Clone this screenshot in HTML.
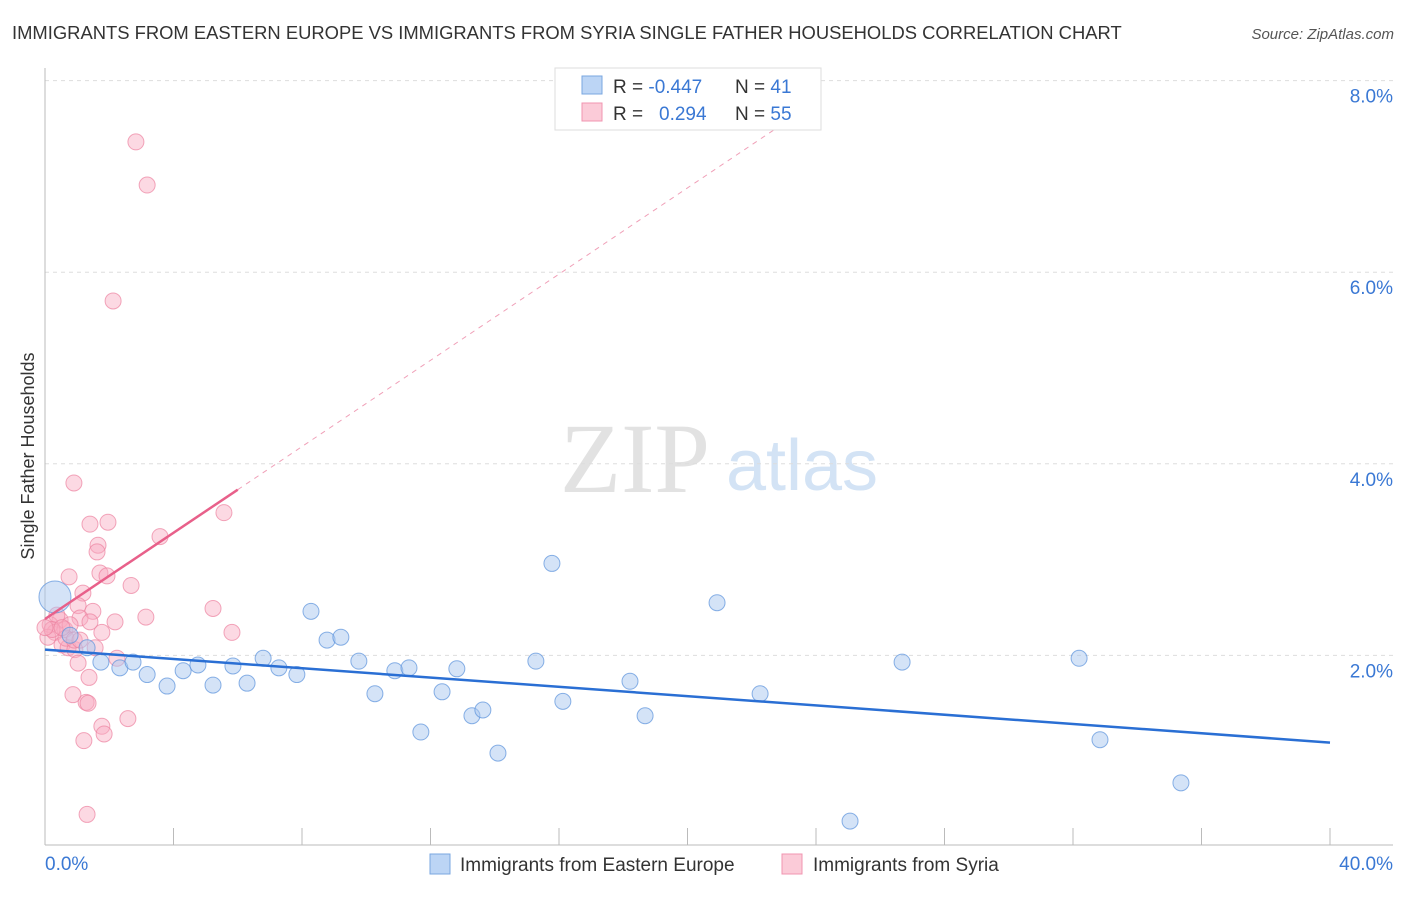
<!DOCTYPE html>
<html><head><meta charset="utf-8"><style>
body{margin:0;background:#fff;font-family:"Liberation Sans",sans-serif;}
svg text{font-family:"Liberation Sans",sans-serif;}
</style></head><body>
<svg id="chart" width="1406" height="892">
<text x="12" y="39" font-size="18.4" fill="#333">IMMIGRANTS FROM EASTERN EUROPE VS IMMIGRANTS FROM SYRIA SINGLE FATHER HOUSEHOLDS CORRELATION CHART</text>
<text x="1394" y="39" font-size="15" fill="#555" text-anchor="end" font-style="italic">Source: ZipAtlas.com</text>
<g>
<text x="635" y="492" font-size="100" fill="#e2e2e2" text-anchor="middle" style="font-family:'Liberation Serif',serif">ZIP</text>
<text x="802" y="490" font-size="72" fill="#d3e3f5" text-anchor="middle">atlas</text>
</g>
<g id="grid"></g><g id="axes"></g><g id="pts"></g><g id="lines"></g>
<text transform="translate(34,456) rotate(-90)" font-size="18" fill="#333" text-anchor="middle">Single Father Households</text>
<g>
<rect x="555" y="68" width="266" height="62" fill="#fff" stroke="#ddd"/>
<rect x="582" y="76" width="20" height="18" fill="#bcd5f5" stroke="#7aa7e0"/>
<rect x="582" y="103" width="20" height="18" fill="#fbcbd8" stroke="#f095b0"/>
<text x="613" y="93" font-size="19" fill="#333">R = <tspan fill="#3a78d4">-0.447</tspan></text>
<text x="735" y="93" font-size="19" fill="#333">N = <tspan fill="#3a78d4">41</tspan></text>
<text x="613" y="120" font-size="19" fill="#333">R = <tspan fill="#3a78d4" x="659">0.294</tspan></text>
<text x="735" y="120" font-size="19" fill="#333">N = <tspan fill="#3a78d4">55</tspan></text>
</g>
<g>
<rect x="430" y="854" width="20" height="20" fill="#bcd5f5" stroke="#7aa7e0"/>
<text x="460" y="871" font-size="19" fill="#333">Immigrants from Eastern Europe</text>
<rect x="782" y="854" width="20" height="20" fill="#fbcbd8" stroke="#f095b0"/>
<text x="813" y="871" font-size="19" fill="#333">Immigrants from Syria</text>
</g>
</svg>
<script>
const yTicks=[2,4,6,8];
const yTickLabels=["2.0%","4.0%","6.0%","8.0%"];
const xTickVals=[0,4,8,12,16,20,24,28,32,36,40];
const xEndLabels=["0.0%","40.0%"];
const blueX=[0.31,1.31,1.74,2.33,2.74,3.18,3.80,4.30,4.76,5.23,5.85,6.29,6.79,7.28,7.84,8.28,8.78,9.21,9.77,10.27,10.89,11.33,11.70,12.36,12.82,13.29,13.63,14.10,15.28,15.78,16.12,18.21,18.68,20.92,22.26,25.06,26.68,32.19,32.84,35.36,0.78];
const blueY=[2.61,2.08,1.93,1.87,1.93,1.80,1.68,1.84,1.90,1.69,1.89,1.71,1.97,1.87,1.80,2.46,2.16,2.19,1.94,1.60,1.84,1.87,1.20,1.62,1.86,1.37,1.43,0.98,1.94,2.96,1.52,1.73,1.37,2.55,1.60,0.27,1.93,1.97,1.12,0.67,2.21];
const pinkX=[2.83,3.18,2.12,0.90,1.40,1.96,3.58,5.57,1.65,1.62,0.75,1.71,1.93,2.68,1.18,1.03,1.49,5.23,3.14,2.18,5.82,1.77,1.09,1.40,0.47,0.16,0.31,0.62,0.09,0.53,0.72,0.93,2.24,1.03,1.37,0.87,1.28,1.34,1.77,2.58,1.84,1.21,1.31,0.37,0.78,0.65,0.22,0.91,0.0,0.53,1.09,1.56];
const pinkY=[7.36,6.91,5.70,3.80,3.37,3.39,3.24,3.49,3.15,3.08,2.82,2.86,2.83,2.73,2.65,2.52,2.46,2.49,2.40,2.35,2.24,2.24,2.39,2.35,2.37,2.32,2.24,2.27,2.19,2.11,2.08,2.06,1.97,1.92,1.77,1.59,1.51,1.50,1.26,1.34,1.18,1.11,0.34,2.42,2.32,2.18,2.27,2.16,2.29,2.29,2.16,2.08];
const blueTrend=[2.06,1.09];
const pinkTrend=[2.38,0.225];
const NS="http://www.w3.org/2000/svg";
const X=v=>45+v/40*1285, Y=v=>847-v*95.8;
function mk(p,t,a){const e=document.createElementNS(NS,t);for(const k in a)e.setAttribute(k,a[k]);document.getElementById(p).appendChild(e);return e;}
yTicks.forEach((t,i)=>{
 let g=mk('grid','line',{x1:45,x2:1393,y1:Y(t),y2:Y(t),stroke:'#ddd','stroke-dasharray':'4,4'});
 
 
 let l=mk('axes','text',{x:1393,y:Y(t)+22,'font-size':19,fill:'#3a78d4','text-anchor':'end'});l.textContent=yTickLabels[i];
 
 
});
let ax=mk('axes','line',{x1:45,x2:45,y1:68,y2:845,stroke:'#bbb'});


let bx=mk('axes','line',{x1:45,x2:1393,y1:845,y2:845,stroke:'#bbb'});


xTickVals.forEach(t=>{let k=mk('axes','line',{x1:X(t),x2:X(t),y1:828,y2:845,stroke:'#bbb'});
 
 });
let l0=mk('axes','text',{x:45,y:870,'font-size':19,fill:'#3a78d4'});l0.textContent=xEndLabels[0];


let l1=mk('axes','text',{x:1393,y:870,'font-size':19,fill:'#3a78d4','text-anchor':'end'});l1.textContent=xEndLabels[1];


pinkX.forEach((v,i)=>{let c=mk('pts','circle',{cx:X(v),cy:Y(pinkY[i]),r:8,fill:'rgba(248,170,192,0.45)',stroke:'rgba(236,130,160,0.7)','stroke-width':1});
 
 });
blueX.forEach((v,i)=>{let c=mk('pts','circle',{cx:X(v),cy:Y(blueY[i]),r:i==0?16:8,fill:'rgba(170,200,240,0.5)',stroke:'rgba(90,145,220,0.7)','stroke-width':1});
 
 });
let bl=mk('lines','line',{x1:X(0),y1:Y(blueTrend[0]),x2:X(40),y2:Y(blueTrend[1]),stroke:'#2a6fd4','stroke-width':2.5});


const pf=x=>pinkTrend[0]+pinkTrend[1]*x;
let pl=mk('lines','line',{x1:X(0),y1:Y(pf(0)),x2:X(6),y2:Y(pf(6)),stroke:'#e8608a','stroke-width':2.5});


let pd=mk('lines','line',{x1:X(6),y1:Y(pf(6)),x2:X(24),y2:Y(pf(24)),stroke:'#f0a0b8','stroke-width':1,'stroke-dasharray':'5,5'});


</script>
</body></html>
